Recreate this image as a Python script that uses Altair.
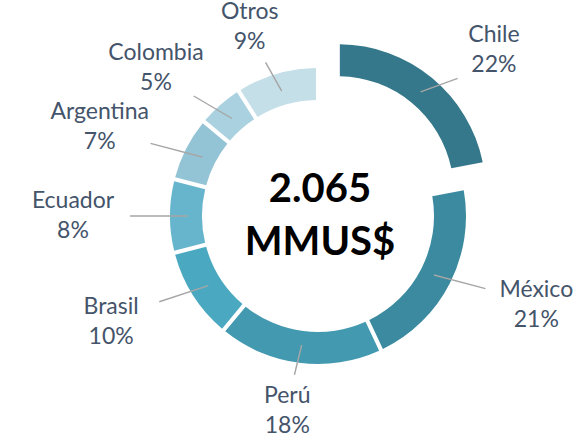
import math
import altair as alt
import pandas as pd

# ---- data ----
countries = ["Chile", "México", "Perú", "Brasil", "Ecuador", "Argentina", "Colombia", "Otros"]
shares = [22, 21, 18, 10, 8, 7, 5, 9]
colors = ["#35788b", "#3b8a9f", "#4399b0", "#4aa8c0", "#67b5cc", "#93c4d5", "#a9d1df", "#c5dfe8"]
exploded = "Chile"
center_lines = ["2.065", "MMUS$"]

# ---- layout ----
CX, CY = 318, 216
R_IN, R_OUT = 116, 148
EXPLODE = 31
LAB_RX, LAB_RY = 245, 197
LAB_LH = 30
LINE_R0 = 130
LINE_RX, LINE_RY = 188, 160
CENTER_LH = 53

df = pd.DataFrame({"pais": countries, "share": shares, "orden": list(range(len(countries)))})

base = (
    alt.Chart(df)
    .transform_window(cum="sum(share)", sort=[alt.SortField("orden")], frame=[None, 0])
    .transform_calculate(
        start="datum.cum - datum.share",
        mid="(datum.cum - datum.share / 2) / 100 * 2 * PI",
        off=f"datum.pais == '{exploded}' ? {EXPLODE} : 0",
    )
    .transform_calculate(
        ox="datum.off * sin(datum.mid)",
        oy="-datum.off * cos(datum.mid)",
    )
    .transform_calculate(
        px=f"{CX} + datum.ox",
        py=f"{CY} + datum.oy",
        lx=f"{CX} + datum.ox + {LAB_RX} * sin(datum.mid)",
        ly=f"{CY} + datum.oy * 0.6 - {LAB_RY} * cos(datum.mid) - {LAB_LH / 2}",
        label="datum.pais + '\\n' + datum.share + '%'",
    )
    .transform_calculate(
        x1=f"datum.px + {LINE_R0} * sin(datum.mid)",
        y1=f"datum.py - {LINE_R0} * cos(datum.mid)",
        x2=f"{CX} + datum.ox + {LINE_RX} * sin(datum.mid)",
        y2=f"{CY} + datum.oy * 0.6 - {LINE_RY} * cos(datum.mid)",
    )
)

arcs = base.mark_arc(innerRadius=R_IN, outerRadius=R_OUT, padAngle=0.022).encode(
    theta=alt.Theta("start:Q", scale=alt.Scale(domain=[0, 100], range=[0, 2 * math.pi]), stack=None),
    theta2="cum:Q",
    x=alt.X("px:Q", scale=None, axis=None),
    y=alt.Y("py:Q", scale=None, axis=None),
    color=alt.Color("pais:N", scale=alt.Scale(domain=countries, range=colors), legend=None),
)

leaders = base.mark_rule(color="#a6a6a6", strokeWidth=1.4).encode(
    x=alt.X("x1:Q", scale=None, axis=None),
    y=alt.Y("y1:Q", scale=None, axis=None),
    x2="x2:Q",
    y2="y2:Q",
)

labels = base.mark_text(
    font="Lato", fontSize=23, color="#44546a", lineBreak="\n", lineHeight=LAB_LH,
    align="center", baseline="middle",
).encode(
    x=alt.X("lx:Q", scale=None, axis=None),
    y=alt.Y("ly:Q", scale=None, axis=None),
    text="label:N",
)

center = alt.Chart(pd.DataFrame({"t": ["\n".join(center_lines)]})).mark_text(
    font="Lato", fontSize=40, fontWeight="bold", color="#000000", lineBreak="\n",
    lineHeight=CENTER_LH, align="center", baseline="middle",
).encode(
    x=alt.value(CX + 2), y=alt.value(CY - CENTER_LH / 2), text="t:N"
)

chart = (
    alt.layer(arcs, leaders, labels, center)
    .properties(width=582, height=438, padding=0, autosize=alt.AutoSizeParams(type="none"))
    .configure_view(stroke=None)
)

chart.save("out.html", embed_options={"renderer": "svg", "actions": False})
